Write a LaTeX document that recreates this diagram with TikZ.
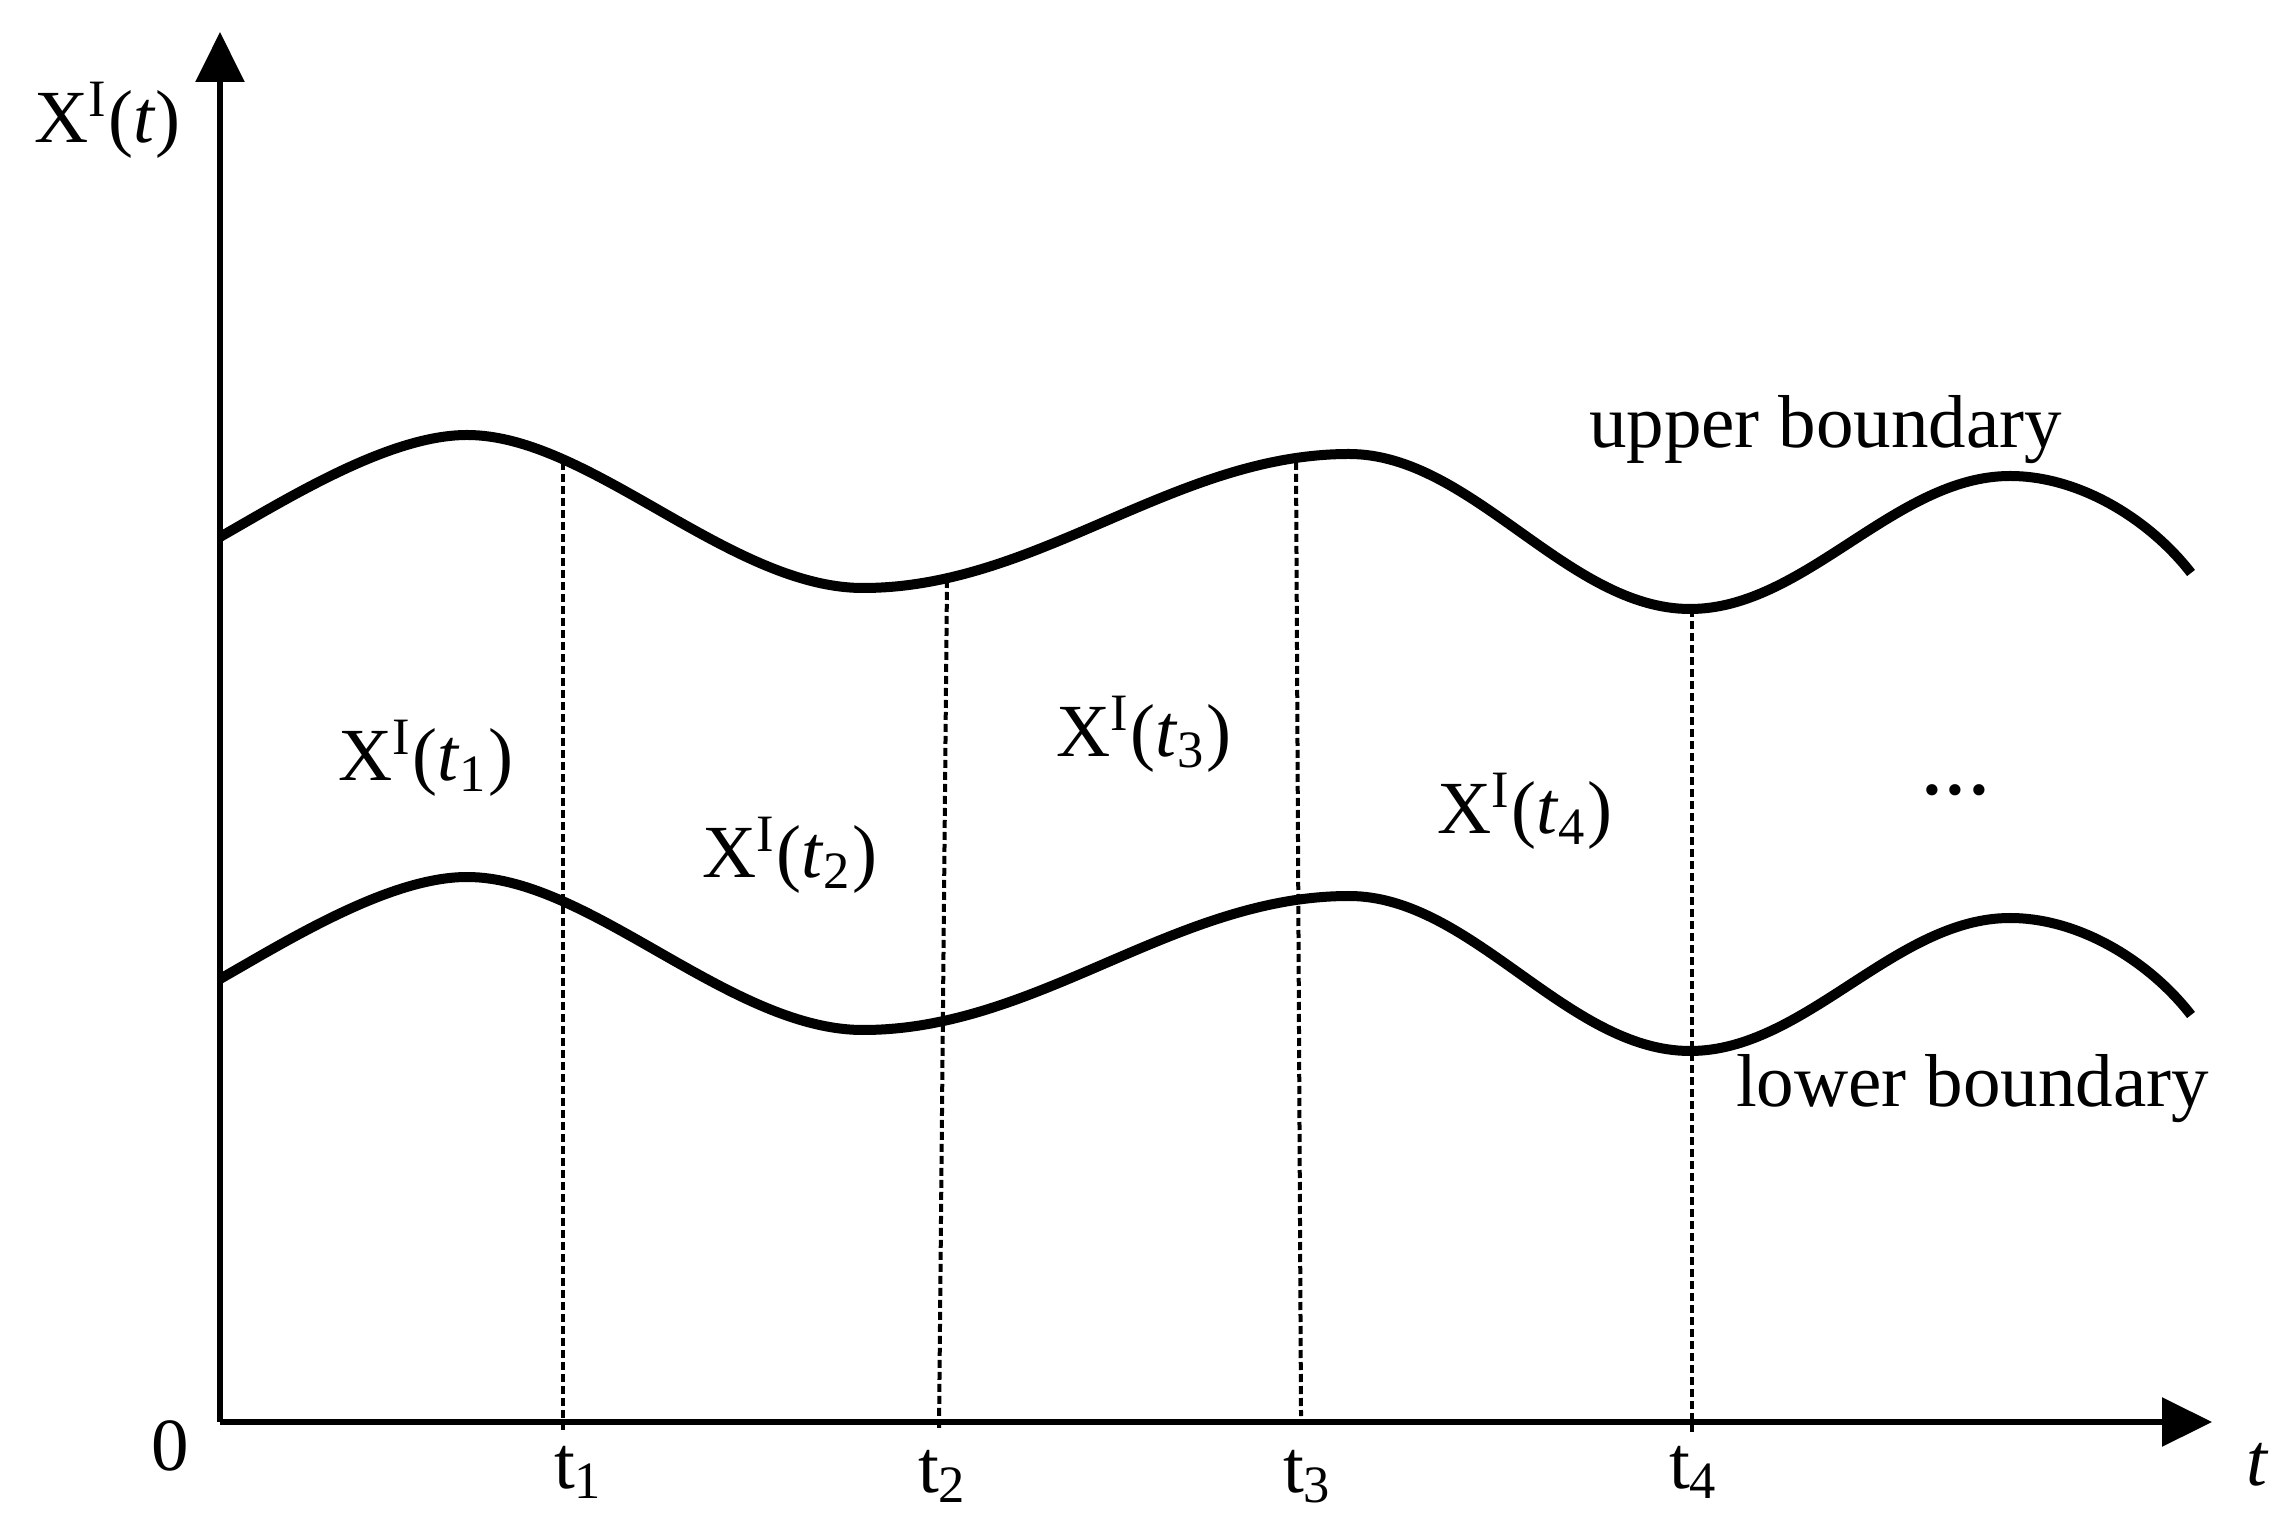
\documentclass[tikz,border=0pt]{standalone}
\usepackage{fontspec}
\setmainfont{Liberation Serif}
\usetikzlibrary{arrows.meta}
\begin{document}
\begin{tikzpicture}[x=0.2pt,y=-0.2pt,
  axisline/.style={line width=1.2pt,-{Triangle[width=9.6pt,length=10pt]}},
  bound/.style={line width=2pt, line join=round},
  guide/.style={line width=0.8pt, dash pattern=on 1.6pt off 0.8pt},
  lbl/.style={font=\fontsize{15}{18}\selectfont, inner sep=0pt, anchor=base west}]
\useasboundingbox (0,0) rectangle (2275,1528);
% axes
\coordinate (O) at (220,1422);
\coordinate (ytop) at (220,32);
\coordinate (xend) at (2212,1422);
\draw[axisline] (O) -- (ytop);
\draw[axisline] (O) -- (xend);
% boundaries
\def\wave{(220,537) .. controls (290,497) and (390,435) .. (467,435)
  .. controls (590,435) and (730,588) .. (863,588)
  .. controls (1038,588) and (1174,454) .. (1349,454)
  .. controls (1472,454) and (1567,609) .. (1690,609)
  .. controls (1805,609) and (1895,476) .. (2010,476)
  .. controls (2080,476) and (2150,520) .. (2191,573)}
\draw[bound] \wave;
\draw[bound, shift={(0,442)}] \wave;
% guides
\coordinate (u1) at (563,462);  \coordinate (b1) at (563,1432);
\coordinate (u2) at (947,580);  \coordinate (b2) at (939,1430);
\coordinate (u3) at (1296,462); \coordinate (b3) at (1301,1416);
\coordinate (u4) at (1692,609); \coordinate (b4) at (1692,1432);
\draw[guide] (u1) -- (b1);
\draw[guide] (u2) -- (b2);
\draw[guide] (u3) -- (b3);
\draw[guide] (u4) -- (b4);
% labels
\node[lbl] (ylab) at (33,143) {X\textsuperscript{I}(\textit{t})};
\node[lbl] (xlab) at (2245,1485) {\textit{t}};
\node[lbl] (zero) at (150,1470) {0};
\node[lbl] (tk1) at (553,1488) {t\textsubscript{1}};
\node[lbl] (tk2) at (917,1492) {t\textsubscript{2}};
\node[lbl] (tk3) at (1282,1492) {t\textsubscript{3}};
\node[lbl] (tk4) at (1668,1488) {t\textsubscript{4}};
\node[lbl] (x1) at (337,781) {X\textsuperscript{I}(\textit{t}\textsubscript{1})};
\node[lbl] (x2) at (701,878) {X\textsuperscript{I}(\textit{t}\textsubscript{2})};
\node[lbl] (x3) at (1055,757) {X\textsuperscript{I}(\textit{t}\textsubscript{3})};
\node[lbl] (x4) at (1436,834) {X\textsuperscript{I}(\textit{t}\textsubscript{4})};
\node[lbl, font=\fontsize{19}{22}\selectfont] (dots) at (1919,795) {...};
\node[lbl] (ub) at (1588,448) {upper boundary};
\node[lbl] (lb) at (1735,1106) {lower boundary};
\end{tikzpicture}
\end{document}
